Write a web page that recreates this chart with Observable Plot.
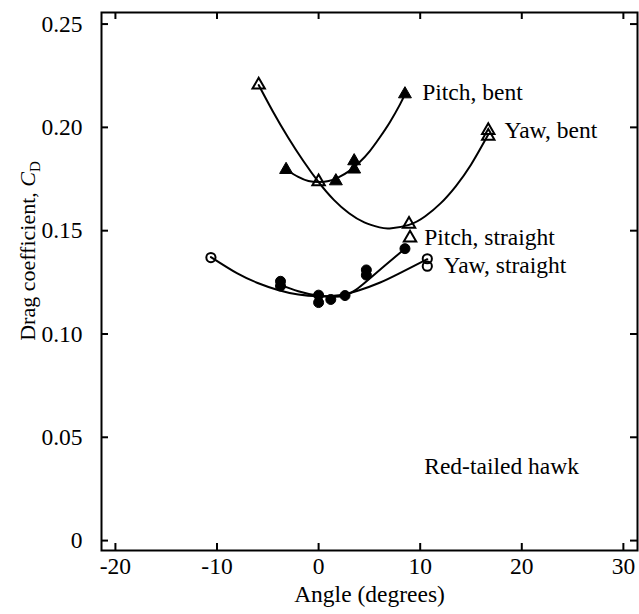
<!DOCTYPE html>
<html><head><meta charset="utf-8">
<script src="https://cdn.jsdelivr.net/npm/d3@7"></script>
<script src="https://cdn.jsdelivr.net/npm/@observablehq/plot@0.6"></script>
<style>body{margin:0;background:#fff} svg{display:block}</style>
</head><body><div id="chart"></div>
<script>
// ---- data ----
const xTicks = [-20, -10, 0, 10, 20, 30];
const yTicks = [0, 0.05, 0.10, 0.15, 0.20, 0.25];

// measured points
const pitchBentX = [-3.2, 1.7, 3.5, 3.5, 8.5];
const pitchBentY = [0.1795, 0.174, 0.1797, 0.1837, 0.2161];
const yawBentX = [-5.9, 0.0, 8.9, 9.0, 16.7, 16.7];
const yawBentY = [0.2205, 0.1737, 0.1532, 0.1465, 0.1985, 0.1958];
const pitchStraightX = [-3.75, -3.75, 0.0, 0.0, 1.2, 2.6, 4.7, 4.7, 8.5];
const pitchStraightY = [0.1255, 0.1232, 0.1188, 0.1152, 0.1167, 0.1186, 0.1310, 0.1285, 0.1413];
const yawStraightX = [-10.6, 10.7, 10.7];
const yawStraightY = [0.1370, 0.1364, 0.1328];

// fitted curves
const pitchBentCurveX = [-3.2, -2, -1, 0, 1, 2, 3, 4, 5, 6, 7, 8, 8.5];
const pitchBentCurveY = [0.1795, 0.1760, 0.1740, 0.1735, 0.1740, 0.1759, 0.1788, 0.1830, 0.1883, 0.1950, 0.2024, 0.2110, 0.2161];
const yawBentCurveX = [-5.9, -4.5, -3, -1.5, 0, 1.5, 3, 4.5, 6, 7, 8.9, 10.5, 12, 13.5, 15, 16.7];
const yawBentCurveY = [0.2205, 0.2077, 0.1951, 0.1837, 0.1735, 0.1649, 0.1584, 0.1540, 0.1516, 0.1511, 0.1528, 0.1570, 0.1632, 0.1715, 0.1819, 0.1965];
const pitchStraightCurveX = [-3.75, -2, 0, 1.5, 2.6, 3.7, 4.75, 6.5, 8.5];
const pitchStraightCurveY = [0.1238, 0.1207, 0.1185, 0.1180, 0.1186, 0.1215, 0.1256, 0.1330, 0.1413];
const yawStraightCurveX = [-10.6, -8, -6, -4, -2, 0, 2, 4, 6, 8, 10.7];
const yawStraightCurveY = [0.1372, 0.1293, 0.1247, 0.1213, 0.1191, 0.1183, 0.1188, 0.1212, 0.1248, 0.1295, 0.1362];

// annotation labels
const labelText = ["Pitch, bent", "Yaw, bent", "Pitch, straight", "Yaw, straight", "Red-tailed hawk"];
const labelX = [10.2, 18.3, 10.4, 12.3, 10.4];
const labelY = [0.2167, 0.1984, 0.1465, 0.1330, 0.0357];

// ---- build tables ----
const zip = (xs, ys) => xs.map((x, i) => ({x, y: ys[i]}));
const pb = zip(pitchBentX, pitchBentY), yb = zip(yawBentX, yawBentY);
const ps = zip(pitchStraightX, pitchStraightY), ys = zip(yawStraightX, yawStraightY);
const curves = [
  zip(pitchBentCurveX, pitchBentCurveY), zip(yawBentCurveX, yawBentCurveY),
  zip(pitchStraightCurveX, pitchStraightCurveY), zip(yawStraightCurveX, yawStraightCurveY)
];
const labels = labelText.map((t, i) => ({t, x: labelX[i], y: labelY[i]}));

const W = 639, H = 614, mL = 101, mR = 2, mT = 12, mB = 64;
const plotW = W - mL - mR, plotH = H - mT - mB, tk = 7;
const FONT = "'Liberation Serif', 'Times New Roman', Times, serif";
const FS = 23.5;

const chart = Plot.plot({
  width: W, height: H, marginLeft: mL, marginRight: mR, marginTop: mT, marginBottom: mB,
  style: {fontFamily: FONT, fontSize: FS + "px", color: "black", background: "white"},
  x: {domain: [-21.37, 31.39]},
  y: {domain: [-0.0048, 0.2556]},
  marks: [
    ...curves.map(c => Plot.line(c, {x: "x", y: "y", curve: "natural", stroke: "black", strokeWidth: 2})),
    Plot.dot(pb, {x: "x", y: "y", symbol: "triangle", r: 4.8, fill: "black", stroke: "black", strokeWidth: 1}),
    Plot.dot(yb, {x: "x", y: "y", symbol: "triangle", r: 4.6, fill: "none", stroke: "black", strokeWidth: 2}),
    Plot.dot(ps, {x: "x", y: "y", r: 5, fill: "black", stroke: "black", strokeWidth: 1}),
    Plot.dot(ys, {x: "x", y: "y", r: 4.6, fill: "none", stroke: "black", strokeWidth: 2}),
    Plot.text(labels, {x: "x", y: "y", text: "t", textAnchor: "start", fontSize: FS, fill: "black"}),
    Plot.frame({stroke: "black", strokeWidth: 2}),
    Plot.tickX(xTicks, {x: d => d, insetTop: plotH - tk, stroke: "black", strokeWidth: 2}),
    Plot.tickX(xTicks, {x: d => d, insetBottom: plotH - tk, stroke: "black", strokeWidth: 2}),
    Plot.tickY(yTicks, {y: d => d, insetRight: plotW - tk, stroke: "black", strokeWidth: 2}),
    Plot.tickY(yTicks, {y: d => d, insetLeft: plotW - tk, stroke: "black", strokeWidth: 2}),
    Plot.axisX(xTicks, {tickSize: 0, tickPadding: 7, tickFormat: d => String(d), label: null, fontSize: FS}),
    Plot.axisY(yTicks, {tickSize: 0, tickPadding: 19, tickFormat: d => d === 0 ? "0" : d.toFixed(2), label: null, fontSize: FS}),
    Plot.text(["Angle (degrees)"], {frameAnchor: "bottom", dy: 51, fontSize: FS, fill: "black"})
  ]
});
document.getElementById("chart").appendChild(chart);

const svg = d3.select(chart);
const yl = svg.append("text")
  .attr("transform", `translate(35,251) rotate(-90)`)
  .attr("text-anchor", "middle")
  .attr("font-family", FONT).attr("font-size", 22).attr("fill", "black");
yl.append("tspan").text("Drag coefficient, ");
yl.append("tspan").attr("font-style", "italic").text("C");
yl.append("tspan").attr("font-size", 15).attr("dy", 5).text("D");
</script>
</body></html>
